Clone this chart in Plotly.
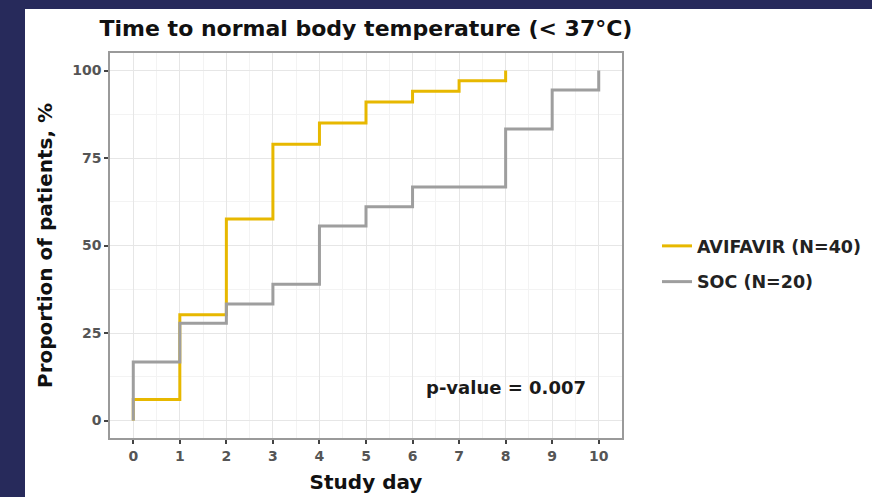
import plotly.graph_objects as go

# Data (cumulative proportion reaching normal temperature)
days_avifavir = [0, 0, 1, 2, 3, 4, 5, 6, 7, 8]
prop_avifavir = [0, 6.0, 30.2, 57.6, 78.9, 85.0, 91.0, 94.1, 97.1, 100]
days_soc = [0, 0, 1, 2, 3, 4, 5, 6, 7, 8, 9, 10]
prop_soc = [0, 16.7, 27.8, 33.3, 38.9, 55.6, 61.1, 66.7, 66.7, 83.3, 94.4, 100]
series_names = ["AVIFAVIR (N=40)", "SOC (N=20)"]
x_ticks = list(range(0, 11))
y_ticks = [0, 25, 50, 75, 100]
title_text = "Time to normal body temperature (< 37°C)"
pvalue_text = "p-value = 0.007"

FONT = "DejaVu Sans, Arial, sans-serif"
ORANGE = "#E7B800"
GRAY = "#9E9E9E"

fig = go.Figure()
fig.add_trace(go.Scatter(
    x=days_avifavir, y=prop_avifavir, mode="lines", line_shape="hv",
    line=dict(color=ORANGE, width=3), name=series_names[0], legendgroup="a"))
fig.add_trace(go.Scatter(
    x=days_soc, y=prop_soc, mode="lines", line_shape="hv",
    line=dict(color=GRAY, width=3), name=series_names[1], legendgroup="b"))

L, R, T, B = 110, 622, 53, 438
W, H = 872, 497
pw, ph = R - L, B - T

def px2x(px):
    return (px - L) / pw

def px2y(py):
    return (B - py) / ph

# white card over navy background
fig.add_shape(type="rect", xref="paper", yref="paper",
              x0=px2x(25), x1=px2x(880), y0=px2y(505), y1=px2y(9),
              fillcolor="white", line_width=0, layer="below")

fig.add_annotation(x=8, y=9.5, xref="x", yref="y", text=pvalue_text,
                   showarrow=False,
                   font=dict(family=FONT, size=18, color="#1a1a1a", weight="bold"))

fig.update_layout(
    width=W, height=H, autosize=False,
    margin=dict(l=L, r=W - R, t=T, b=H - B, autoexpand=False),
    paper_bgcolor="#272A5B",
    plot_bgcolor="white",
    title=dict(text=title_text, x=366 / W, xanchor="center",
               y=1 - 28 / H, yanchor="middle",
               font=dict(family=FONT, size=22, color="#111111", weight="bold")),
    legend=dict(x=px2x(657), xanchor="left", y=px2y(264), yanchor="middle",
                traceorder="grouped", tracegroupgap=10, bgcolor="rgba(0,0,0,0)",
                font=dict(family=FONT, size=17.5, color="#222222", weight="bold")),
    showlegend=True,
)

fig.update_xaxes(
    range=[-0.5, 10.5], tickvals=x_ticks, ticks="outside", ticklen=4,
    tickcolor="#444444", tickwidth=1.5, automargin=False,
    tickfont=dict(family=FONT, size=14, color="#555555", weight="bold"),
    showgrid=True, gridcolor="#E6E6E6", gridwidth=1,
    minor=dict(dtick=0.5, showgrid=True, gridcolor="#F3F3F3", gridwidth=1),
    showline=True, linecolor="#9A9A9A", linewidth=1.5, mirror=True,
    zeroline=False,
    title=dict(text="Study day", standoff=12,
               font=dict(family=FONT, size=20, color="#111111", weight="bold")),
)
fig.update_yaxes(
    range=[-5, 105], tickvals=y_ticks, ticks="outside", ticklen=4,
    tickcolor="#444444", tickwidth=1.5, automargin=False,
    tickfont=dict(family=FONT, size=14, color="#555555", weight="bold"),
    showgrid=True, gridcolor="#E6E6E6", gridwidth=1,
    minor=dict(dtick=12.5, showgrid=True, gridcolor="#F3F3F3", gridwidth=1),
    showline=True, linecolor="#9A9A9A", linewidth=1.5, mirror=True,
    zeroline=False,
    title=dict(text="Proportion of patients, %", standoff=14,
               font=dict(family=FONT, size=20, color="#111111", weight="bold")),
)

fig.write_html(
    "out.html",
    config={"displayModeBar": False},
    post_script="document.body.style.margin='0';document.body.style.overflow='hidden';",
)
